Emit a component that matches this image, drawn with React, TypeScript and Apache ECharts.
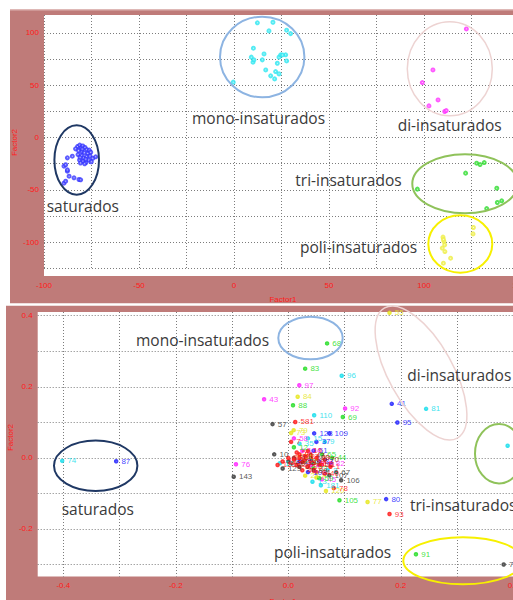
import React, { useEffect, useRef } from 'react';
import * as echarts from 'echarts';

// ---------- TOP PANEL (scores): [Factor1, Factor2] ----------
const TOP_SATURADOS: [number, number][] = [
  [-89.5, -43.6], [-88.6, -41.7], [-89.5, -27.3], [-87.7, -32.1], [-86.8, -36.9], [-84.2, -38.5],
  [-81.6, -40.1], [-80.7, -40.4], [-87.7, -19.4], [-85.1, -17.8], [-88.6, -26], [-87.7, -30.9],
  [-82.3, -8.5], [-81.2, -7.2], [-80.5, -9.8], [-79.6, -8], [-78.4, -9.5], [-77.5, -11.5],
  [-76.2, -12], [-83.4, -10.8], [-81.8, -12.6], [-80, -13.5], [-78.8, -14.5], [-76.9, -15.2],
  [-75.4, -14], [-82.1, -16.3], [-80.3, -17.1], [-79.1, -19.5], [-77.6, -18.2], [-75.8, -17.6],
  [-74.3, -19.8], [-72.8, -18.4], [-81.3, -21.4], [-79.5, -22.6], [-77.9, -23.8], [-76.4, -21.5],
  [-78.6, -25], [-80.8, -24.3], [-75.1, -23.2], [-79.9, -11], [-78, -20.6], [-81, -18.9],
];
const TOP_MONO: [number, number][] = [
  [12.3, 109.7], [20.5, 110.3], [18.4, 102], [27.7, 102.7], [29.8, 99.4], [10.2, 85.5],
  [9.1, 76.9], [10, 72.1], [10.5, 74.3], [15.8, 80], [14.9, 74.3], [16.7, 64.7],
  [22.8, 71.1], [23.7, 76.9], [24.6, 79.1], [27.2, 79.1], [27.7, 73.3], [21.9, 63.1],
  [23.7, 60.9], [19.3, 59], [21.4, 56.1], [-0.4, 53], [25.5, 79],
];
const TOP_DI: [number, number][] = [
  [122.3, 103.9], [104.7, 64.7], [99.1, 52.6], [107.4, 36], [102.6, 30.3], [110.9, 24.9], [111.7, 25.8],
];
const TOP_TRI: [number, number][] = [
  [127.7, -24.5], [129.5, -25.8], [131.7, -23.9], [121.9, -34], [96.5, -49.3],
  [138.3, -48.4], [138.6, -62.1], [140.9, -60.5], [133, -67.9],
];
const TOP_POLI: [number, number][] = [
  [110, -95.2], [110.5, -99.4], [110.9, -102.6], [109.6, -105.7], [111, -109],
  [110.2, -120.1], [114, -115.3], [126, -86], [125.8, -92.1], [110.2, -97.5],
];

// ---------- BOTTOM PANEL (loadings): [Factor1, Factor2, label] ----------
type P = [number, number, string];
const BOT_RED: P[] = [
  [0.0124, 0.101, '581'], [0.18, -0.158, '93'], [0.005, 0.045, '7'], [0.02, 0.01, '31'],
  [0.03, -0.005, '14'], [0.045, -0.015, '61'], [0.06, -0.02, '11'], [0.075, -0.025, '1'],
  [0.081, -0.085, '78'], [-0.019, -0.02, '118'], [0.015, -0.02, '29'], [0.035, 0.02, '19'],
  [0.05, -0.04, '64'], [0.065, -0.045, '40'], [0.0, 0.0, '3'], [0.025, -0.035, '48'],
  [0.01, -0.005, '5'], [0.02, 0.0, '8'], [0.03, 0.005, '27'], [0.04, -0.01, '38'],
  [0.05, 0.0, '49'], [0.015, 0.015, '52'], [0.035, -0.025, '85'], [-0.01, -0.01, '113'],
];
const BOT_DARKRED: P[] = [
  [0.01, 0.0, '30'], [0.025, -0.012, '39'], [0.04, 0.008, '47'], [0.055, -0.02, '56'],
  [0.02, -0.025, '62'], [0.065, -0.005, '70'], [0.005, -0.015, '86'], [0.045, -0.035, '89'],
];
const BOT_GREEN: P[] = [
  [0.069, 0.322, '68'], [0.03, 0.251, '83'], [0.0084, 0.148, '88'], [0.097, 0.115, '69'],
  [0.091, -0.119, '105'], [0.227, -0.271, '91'], [0.078, 0.0, '44'], [0.055, -0.057, '59'],
  [0.03, -0.01, '26'], [0.06, 0.01, '65'], [0.01, 0.03, '12'], [0.045, -0.03, '22'],
];
const BOT_BLUE: P[] = [
  [-0.306, -0.0093, '87'], [0.073, 0.069, '109'], [0.046, 0.069, '123'], [0.184, 0.152, '41'],
  [0.194, 0.0995, '95'], [0.174, -0.116, '80'], [0.05, 0.045, '37'], [0.045, 0.02, '51'],
  [0.02, -0.01, '25'], [0.055, -0.01, '33'], [0.035, -0.04, '103'],
];
const BOT_CYAN: P[] = [
  [-0.402, -0.0084, '74'], [0.095, 0.231, '96'], [0.046, 0.12, '110'], [0.245, 0.138, '81'],
  [0.39, 0.034, '60'], [0.035, 0.055, '15'], [0.065, 0.045, '9'], [0.043, -0.067, '13'],
  [0.058, -0.077, '181'], [-0.015, -0.015, '16'], [0.02, 0.04, '35'], [0.07, -0.035, '2'],
];
const BOT_MAGENTA: P[] = [
  [-0.093, -0.018, '76'], [-0.043, 0.165, '43'], [0.0196, 0.2045, '97'], [0.101, 0.139, '92'],
  [0.01, 0.055, '58'], [0.04, -0.02, '17'], [0.06, -0.06, '45'], [0.025, 0.02, '104'], [0.075, -0.015, '82'],
];
const BOT_YELLOW: P[] = [
  [0.18, 0.408, '55'], [0.0167, 0.172, '84'], [0.141, -0.124, '77'], [0.0096, 0.078, '79'],
  [0.067, -0.093, '120'], [0.03, -0.05, '23'], [0.05, -0.055, '6'], [0.02, 0.005, '36'], [0.005, 0.07, '73'],
];
const BOT_GRAY: P[] = [
  [-0.097, -0.053, '143'], [-0.028, 0.095, '57'], [0.383, -0.3, '71'], [-0.025, 0.01, '10'],
  [-0.01, -0.03, '129'], [0.073, -0.049, '107'], [0.094, -0.063, '106'], [0.0, -0.01, '1'],
  [0.085, -0.04, '67'], [0.04, 0.0, '100'],
];

// tick labels
const TOP_X_TICKS = [-100, -50, 0, 50, 100, 150];
const TOP_Y_TICKS = [-100, -50, 0, 50, 100];
const BOT_X_TICKS = [-0.4, -0.2, 0, 0.2, 0.4];
const BOT_Y_TICKS = [-0.2, 0, 0.2, 0.4];

const GROUP_NAMES = ['saturados', 'mono-insaturados', 'di-insaturados', 'tri-insaturados', 'poli-insaturados'];

// ---------- styles / layout ----------
const FRAME = '#BF7B79';
const TICK_RED = '#FF1A1A';
const GRID_LINE = { type: [1, 2] as number[], color: '#7c7c7c', width: 1 };
const ANN_FONT = '"Open Sans", "Noto Sans", sans-serif';
const GROUP_COLORS = ['#1F3864', '#8DB4E2', '#EDD3D2', '#8FC25A', '#F7F000'];

const TOP_ELL = [
  { cx: 76.7, cy: 160, rx: 22.3, ry: 34.7, r: 0 },
  { cx: 262.2, cy: 57, rx: 42.2, ry: 40.3, r: 0 },
  { cx: 449.8, cy: 68.7, rx: 42.5, ry: 47, r: 0 },
  { cx: 465, cy: 183.8, rx: 52.7, ry: 29.5, r: 0 },
  { cx: 460.3, cy: 244, rx: 32, ry: 28.7, r: 0 },
];
const BOT_ELL = [
  { cx: 95.7, cy: 465.8, rx: 41.7, ry: 25.2, r: 0 },
  { cx: 310.5, cy: 338, rx: 32.2, ry: 21.3, r: 0 },
  { cx: 421, cy: 373, rx: 32, ry: 74.5, r: 0.51 },
  { cx: 499, cy: 453.7, rx: 24, ry: 29.7, r: 0 },
  { cx: 463, cy: 560.8, rx: 59.7, ry: 23.5, r: 0 },
];
const TOP_TXT = [[46.7, 206], [192, 118], [397.7, 124.7], [295.3, 180.4], [300, 247]];
const BOT_TXT = [[61.7, 509], [136, 339.7], [407.3, 375.4], [410, 504.7], [274, 552]];

function fmt(ticks: number[], digits: number) {
  return (v: number) => {
    const t = ticks.find((k) => Math.abs(k - v) < 1e-6);
    return t === undefined ? '' : digits ? t.toFixed(digits) : String(t);
  };
}

const axisLabelBase = { color: TICK_RED, fontSize: 8, fontFamily: '"Liberation Sans", Arial, sans-serif' };

export default function App() {
  const ref = useRef<HTMLDivElement>(null);
  useEffect(() => {
    if (!ref.current) return;
    const chart = echarts.init(ref.current, undefined, { renderer: 'svg' });

    const ellipse = (e: any, i: number) => ({
      type: 'ellipse', x: e.cx, y: e.cy, rotation: e.r, z: 20, silent: true,
      shape: { cx: 0, cy: 0, rx: e.rx, ry: e.ry },
      style: { fill: 'none', stroke: GROUP_COLORS[i], lineWidth: i === 2 ? 1.5 : 2 },
    });
    const label = (p: number[], i: number) => ({
      type: 'text', x: p[0], y: p[1], z: 21, silent: true,
      style: { text: GROUP_NAMES[i], font: `15.5px ${ANN_FONT}`, fill: '#3a3a3a', textAlign: 'left', textVerticalAlign: 'middle' },
    });
    const axTitle = (x: number, y: number, rot: number) => ({
      type: 'text', x, y, rotation: rot, z: 21, silent: true,
      style: { text: rot ? 'Factor2' : 'Factor1', font: '8px "Liberation Sans", Arial, sans-serif', fill: TICK_RED, textAlign: 'center', textVerticalAlign: 'middle' },
    });

    const topSeries = [
      [TOP_SATURADOS, '#3535FF'], [TOP_MONO, '#2AE6F0'], [TOP_DI, '#FF30FF'], [TOP_TRI, '#2EDC2E'], [TOP_POLI, '#EEEE40'],
    ].map(([d, c]) => ({
      type: 'scatter', xAxisIndex: 0, yAxisIndex: 0, data: d, symbol: 'emptyCircle', symbolSize: 3,
      itemStyle: { color: c, borderColor: c, borderWidth: 0.8, opacity: 0.8 }, silent: true,
    }));
    const botSeries = [
      [BOT_GRAY, '#3a3a3a'], [BOT_YELLOW, '#E6E61A'], [BOT_MAGENTA, '#FF22FF'], [BOT_CYAN, '#14DDEB'],
      [BOT_BLUE, '#2020FF'], [BOT_GREEN, '#22DD22'], [BOT_DARKRED, '#A01010'], [BOT_RED, '#FF1515'],
    ].map(([d, c]) => ({
      type: 'scatter', xAxisIndex: 1, yAxisIndex: 1, data: d, symbol: 'emptyCircle', symbolSize: 2.5,
      itemStyle: { color: c, borderColor: c, borderWidth: 0.8, opacity: 0.85 }, silent: true,
      label: {
        show: true, position: 'right', distance: 3, offset: [0, 5], color: c as string, fontSize: 8,
        fontFamily: '"Liberation Sans", Arial, sans-serif', formatter: (p: any) => p.data[2],
      },
      labelLayout: { hideOverlap: false },
    }));

    chart.setOption({
      animation: false,
      backgroundColor: '#ffffff',
      grid: [
        { left: 44, top: 15, width: 494, height: 253.3, outerBoundsMode: 'none', containLabel: false },
        { left: 37.7, top: 312, width: 509.3, height: 264.6, outerBoundsMode: 'none', containLabel: false },
      ],
      xAxis: [
        {
          type: 'value', gridIndex: 0, min: -100, max: 160, interval: 25,
          axisLine: { show: false }, axisTick: { show: false },
          axisLabel: { ...axisLabelBase, margin: 13, formatter: fmt(TOP_X_TICKS, 0), showMinLabel: true, showMaxLabel: false },
          splitLine: { show: true, showMinLine: true, showMaxLine: false, lineStyle: GRID_LINE },
        },
        {
          type: 'value', gridIndex: 1, min: -0.4455, max: 0.46, splitNumber: 9,
          axisLine: { show: false }, axisTick: { show: false },
          axisLabel: { ...axisLabelBase, margin: 5, formatter: fmt(BOT_X_TICKS, 1), showMinLabel: false, showMaxLabel: false },
          splitLine: { show: true, showMinLine: false, showMaxLine: false, lineStyle: GRID_LINE },
        },
      ],
      yAxis: [
        {
          type: 'value', gridIndex: 0, min: -125, max: 117.2, interval: 25,
          axisLine: { show: false }, axisTick: { show: false },
          axisLabel: { ...axisLabelBase, margin: 5, formatter: fmt(TOP_Y_TICKS, 0), showMinLabel: false, showMaxLabel: false },
          splitLine: { show: true, showMinLine: true, showMaxLine: false, lineStyle: GRID_LINE },
        },
        {
          type: 'value', gridIndex: 1, min: -0.334, max: 0.4104, splitNumber: 7,
          axisLine: { show: false }, axisTick: { show: false },
          axisLabel: { ...axisLabelBase, margin: 5, formatter: fmt(BOT_Y_TICKS, 1), showMinLabel: false, showMaxLabel: false },
          splitLine: { show: true, showMinLine: false, showMaxLine: false, lineStyle: GRID_LINE },
        },
      ],
      graphic: [
        { type: 'rect', z: -10, silent: true, shape: { x: 10, y: 9.5, width: 520, height: 293.8 }, style: { fill: FRAME } },
        { type: 'rect', z: -9, silent: true, shape: { x: 10, y: 9.5, width: 520, height: 1 }, style: { fill: '#DDB3B2' } },
        { type: 'rect', z: -10, silent: true, shape: { x: 6, y: 305.7, width: 520, height: 300 }, style: { fill: FRAME } },
        { type: 'rect', z: -8, silent: true, shape: { x: 44, y: 15, width: 494, height: 261 }, style: { fill: '#ffffff' } },
        { type: 'rect', z: -8, silent: true, shape: { x: 37.7, y: 312, width: 509.3, height: 264.6 }, style: { fill: '#ffffff' } },
        ...TOP_ELL.map(ellipse),
        ...BOT_ELL.map(ellipse),
        ...TOP_TXT.map(label),
        ...BOT_TXT.map(label),
        axTitle(283, 299, 0),
        axTitle(14.7, 142.5, Math.PI / 2),
        axTitle(283, 601, 0),
        axTitle(10.5, 437.5, Math.PI / 2),
      ],
      series: [...topSeries, ...botSeries],
    });
    return () => chart.dispose();
  }, []);
  return (
    <div
      ref={ref}
      style={{ position: 'absolute', left: 0, top: 0, width: 513, height: 600, background: '#fff' }}
    />
  );
}
